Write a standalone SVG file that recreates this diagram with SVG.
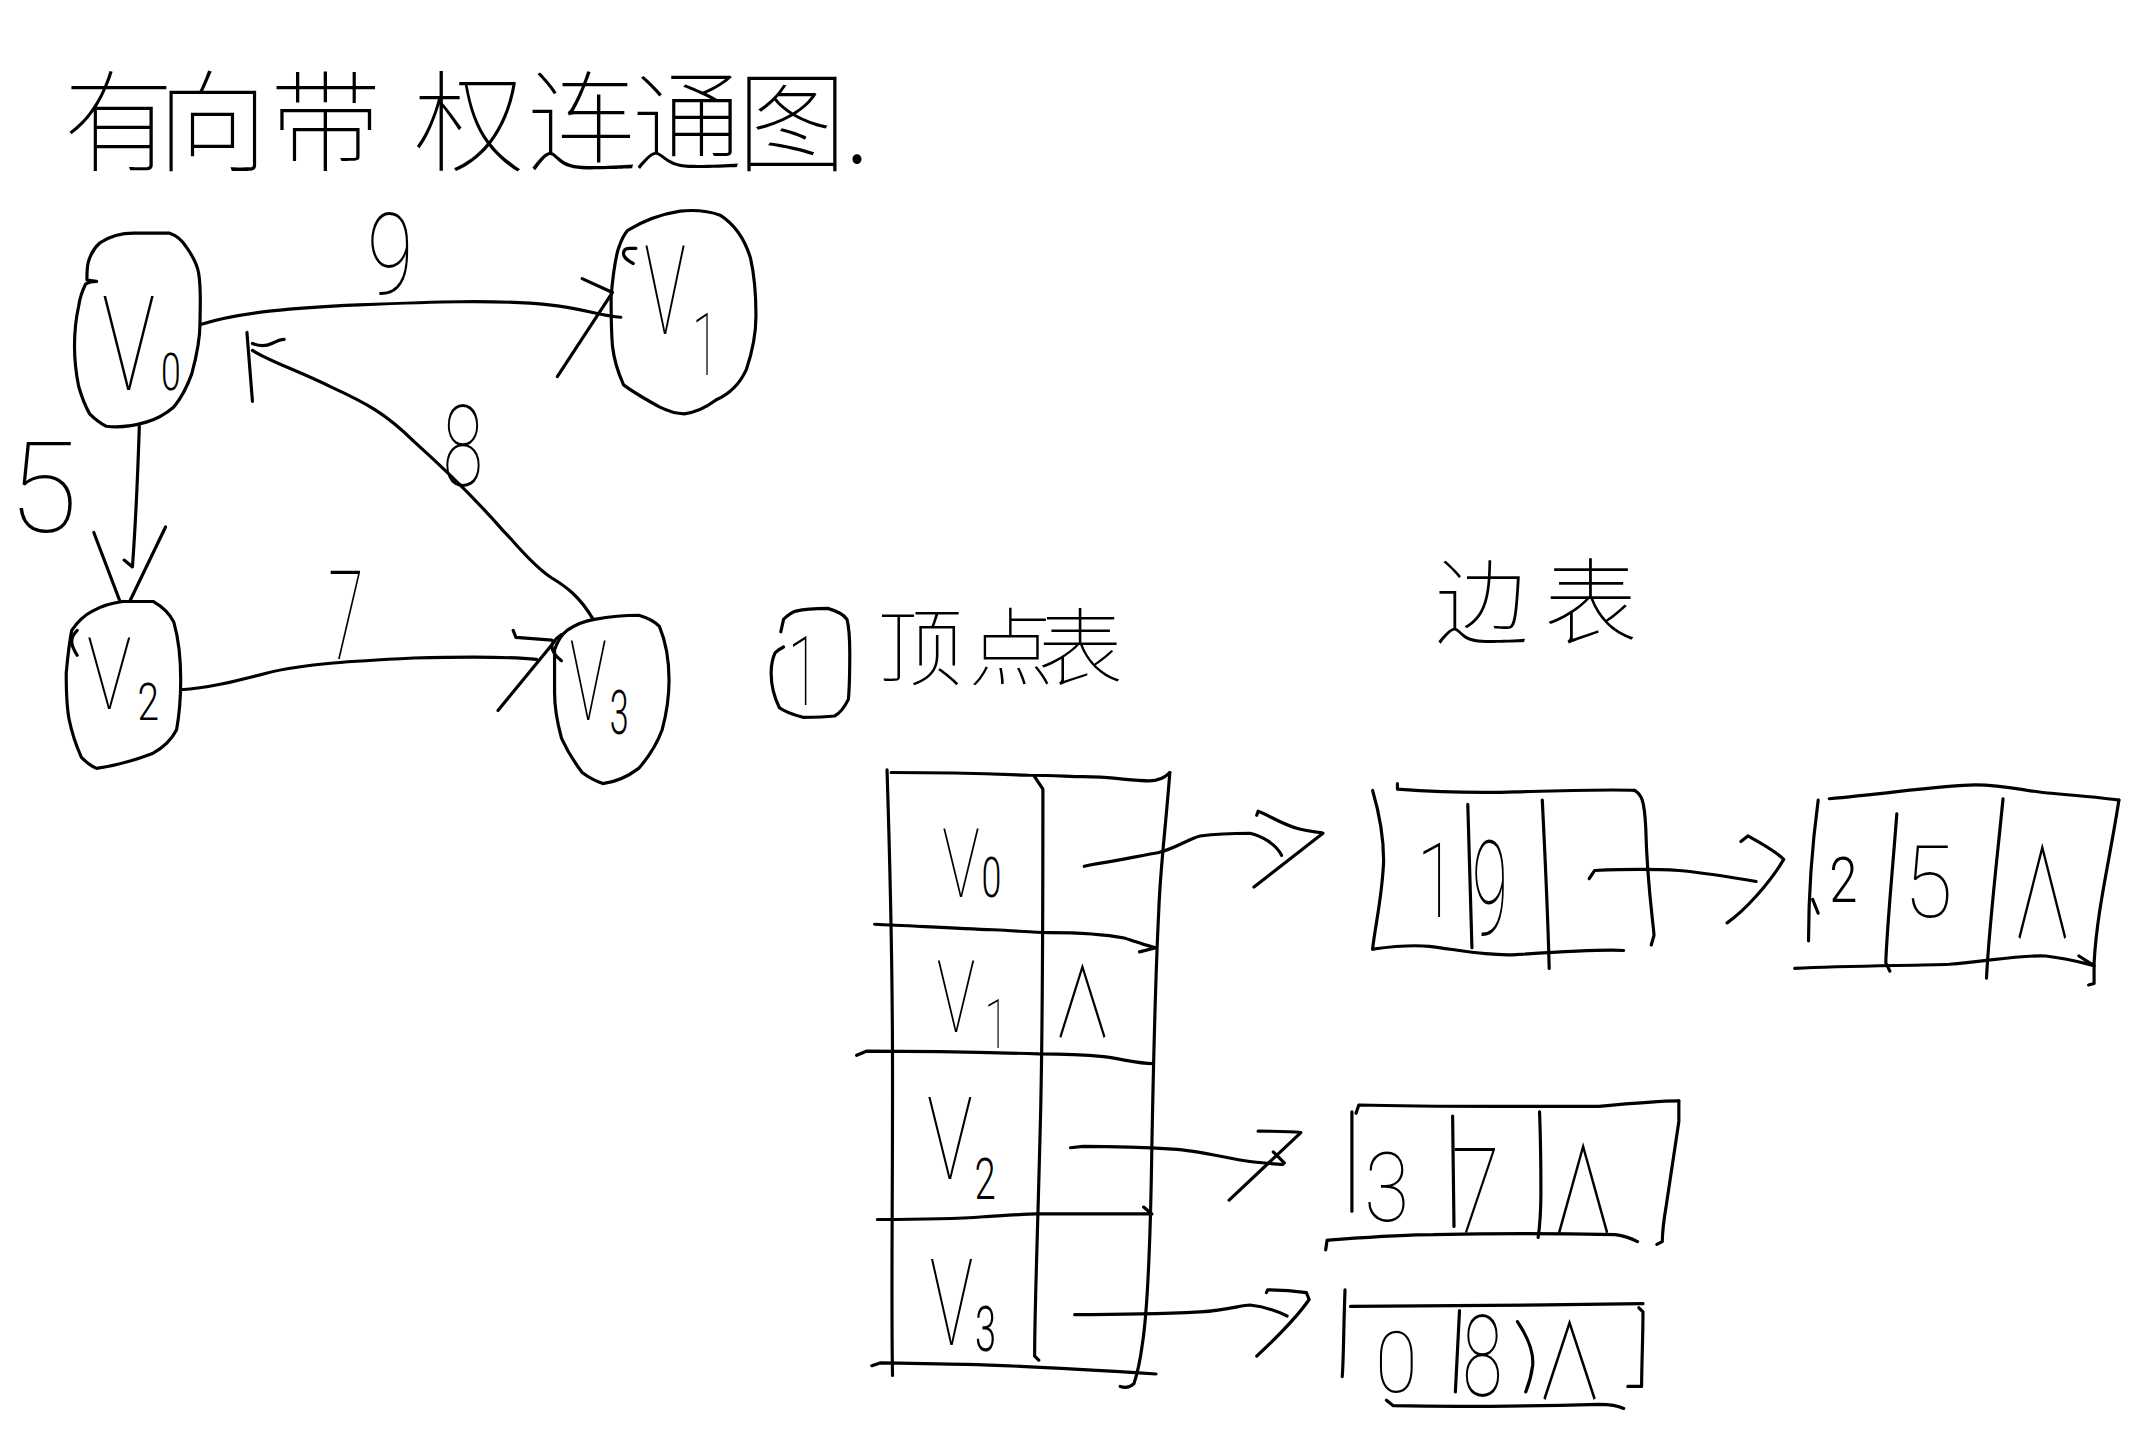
<svg xmlns="http://www.w3.org/2000/svg" width="2152" height="1439" viewBox="0 0 2152 1439">
<defs>
<style>
.ln{fill:none;stroke:#000;stroke-width:2.3;stroke-linecap:round;stroke-linejoin:round}
.h{font-family:Roboto,Lato,Inter,"DejaVu Sans",sans-serif;font-weight:100;fill:#000}
.s{font-weight:300}
.cjk{font-family:"Noto Sans CJK SC","Noto Sans CJK JP",sans-serif;font-weight:100;fill:#000}
.nul{font-family:"Noto Sans CJK SC","Noto Sans CJK JP","DejaVu Sans",sans-serif;font-weight:100;fill:#000}
</style>
</defs>
<rect x="0" y="0" width="2152" height="1439" fill="#fff"/>
<g transform="scale(1.3795)">

<g id="title">
<text class="cjk" font-size="80" x="46 114 196 300 382 458 534 612" y="118">有向带权连通图.</text>
</g>

<g id="node-v0">
<path class="ln" d="M70,204 L63,203 C63,198 63,194 64,190 C66,183 69,179 72.5,176 C80,171 89,169 97,169 L123,169 C129,171 132,174 135,179 C140,186 143,192 144,198 C146,210 145,222 145,234 C145,248 142,260 139,271 C135,282 131,289 126,295 C119,301 113,304 106,306 C96,309 86,310 77,309 C71,306 68,303 65,300 C61,293 59,287 57,280 C55,270 54,261 54,251 C54,240 55,231 57,222 C58,215 60,210 62,206 C65,204 67,204 70,204"/>
<text class="h" transform="translate(74,283) scale(0.68,1)" font-size="95">V<tspan class="s" font-size="38" dx="6">0</tspan></text>
</g>

<g id="node-v1">
<path class="ln" d="M455,167 C468,159 480,155 493,153 C504,152 514,153 522,156 C533,163 540,174 544,187 C547,200 548,215 548,229 C548,243 545,256 541,268 C536,279 528,286 519,290 C511,296 504,299 496,300 C490,300 484,298 478,295 C469,290 460,285 452,279 C448,270 445,260 444,251 C443,240 443,227 443,215 C444,203 445,192 448,181 C450,175 452,170 455,167"/>
<path class="ln" d="M459,191 C455,189 452,186 452,184 C452,181 454,180 456,180 L461,180"/>
<text class="h" transform="translate(467,242) scale(0.56,1)" font-size="90">V<tspan font-size="63" dx="8" dy="30">1</tspan></text>
</g>

<g id="node-v2">
<path class="ln" d="M89,436 L111,436 C118,440 123,445 126,451 C130,465 131,479 131,493 C131,506 130,518 128,529 C124,537 118,542 111,546 C98,551 84,555 70,557 C65,555 62,552 59,549 C55,540 52,531 50,521 C48,510 48,499 48,488 C49,477 50,467 52,457 C56,451 61,446 67,443 C74,439 81,437 89,436"/>
<path class="ln" d="M56,457 C53,460 52,463 52,465 C52,469 54,472 56,475"/>
<text class="h" transform="translate(63,514) scale(0.74,1)" font-size="73">V<tspan class="s" font-size="38" dx="6" dy="8">2</tspan></text>
</g>

<g id="node-v3">
<path class="ln" d="M431,449 C442,447 452,446 463,446 C470,448 475,451 478,454 C483,466 485,480 485,493 C485,506 483,518 480,529 C476,540 470,549 463,557 C455,563 446,567 437,568 C431,566 426,563 422,560 C416,552 411,544 407,535 C404,524 402,513 402,502 C402,491 402,481 402,471 C404,465 407,460 411,457 C417,453 424,450 431,449"/>
<path class="ln" d="M407,460 C403,463 400,466 400,468 C400,472 403,476 407,479"/>
<text class="h" transform="translate(413,522) scale(0.56,1)" font-size="80">V<tspan class="s" font-size="44" dx="4" dy="10">3</tspan></text>
</g>

<g id="connectors">
<path class="ln" d="M146,235 C175,226 215,223 260,221 C310,219 360,217 398,221 C420,223 435,229 450,230"/>
<path class="ln" d="M422,202 L444,212 L404,273"/>
<path class="ln" d="M101,309 C100,340 99,370 96,411 L90,406"/>
<path class="ln" d="M68,386 L87,436 M120,382 L94,436"/>
<path class="ln" d="M131,500 C150,499 170,494 193,488 C220,481 260,479 300,477 C340,476 370,476 389,478"/>
<path class="ln" d="M372,457 L374,462 L400,464 M402,465 L361,515"/>
<path class="ln" d="M430,449 C420,432 410,425 400,419 C385,409 375,395 365,385 C345,362 320,338 300,320 C280,300 265,292 241,281 C215,268 195,262 183,254"/>
<path class="ln" d="M179,241 L183,291 M183,249 C188,251 193,251 197,249 C201,247 204,246 206,246"/>
</g>

<g id="edge-labels">
<text class="h" transform="translate(266,213) scale(0.75,1)" font-size="82">9</text>
<text class="h" transform="translate(6,386) scale(1,1)" font-size="92">5</text>
<text class="h" transform="translate(321,352) scale(0.65,1)" font-size="82">8</text>
<text class="h" transform="translate(238,478) scale(0.52,1)" font-size="90">7</text>
</g>

<g id="vertex-table-caption">
<path class="ln" d="M566,458 L568,449 C571,446 574,444 577,443 C585,441 592,441 600,441 C607,443 612,446 614,449 C616,457 616,465 616,473 C616,485 616,496 615,507 C612,513 609,517 605,519 C597,520 589,520 582,520 C575,518 569,516 565,513 C561,505 559,496 559,488 C559,482 560,477 562,473 C564,471 566,470 568,469"/>
<text class="h" transform="translate(571,511) scale(0.6,1)" font-size="70">1</text>
<text class="cjk" font-size="62" x="636 702 752" y="492">顶点表</text>
</g>

<g id="edge-table-caption">
<text class="cjk" font-size="68" x="1040 1119" y="462">边表</text>
</g>

<g id="vertex-table">
<path class="ln" d="M643,558 C645,620 647,700 647,780 C647,880 646,950 647,997"/>
<path class="ln" d="M646,560 C680,560 720,561 746,562 C765,562 775,563 785,563 C805,563 820,566 833,566 C840,566 845,563 848,560"/>
<path class="ln" d="M848,560 C845,600 841,630 840,660 C837,720 836,780 835,830 C834,900 832,950 828,975 C826,990 823,1000 822,1003 C819,1006 815,1006 812,1005"/>
<path class="ln" d="M750,563 L756,572 C756,650 756,750 754,820 C752,900 750,950 750,983 L753,986"/>
<path class="ln" d="M634,670 C660,671 690,673 720,674 C740,675 750,676 760,676 C790,676 805,678 815,680 C825,683 832,686 838,687 M826,690 L838,687"/>
<path class="ln" d="M621,765 L628,762 C680,762 720,763 753,764 C775,764 790,765 800,766 C815,768 825,771 836,771"/>
<path class="ln" d="M636,884 C670,884 700,883 713,882 C730,881 745,880 751,880 C790,880 815,880 835,880 M829,875 L835,880"/>
<path class="ln" d="M632,990 L638,988 C660,988 680,989 700,989 C740,990 790,993 838,996"/>
<text class="h" transform="translate(683,650) scale(0.65,1)" font-size="70">V<tspan class="s" font-size="40" dx="2">0</tspan></text>
<text class="h" transform="translate(679,748) scale(0.65,1)" font-size="72">V<tspan font-size="50" dx="10" dy="12">1</tspan></text>
<text class="nul" transform="translate(763,752) scale(0.62,1)" font-size="70">∧</text>
<text class="h" transform="translate(672,855) scale(0.66,1)" font-size="84">V<tspan class="s" font-size="42" dx="2" dy="14">2</tspan></text>
<text class="h" transform="translate(674,975) scale(0.6,1)" font-size="88">V<tspan class="s" font-size="46" dx="2" dy="4">3</tspan></text>
</g>

<g id="list-v0-e1">
<path class="ln" d="M995,573 C1000,590 1003,610 1003,624 C1002,650 997,670 995,688"/>
<path class="ln" d="M1013,568 L1013,572 C1040,574 1070,575 1099,574 C1140,573 1170,572 1185,573"/>
<path class="ln" d="M1185,573 C1190,576 1192,580 1193,600 C1194,640 1198,665 1199,678 L1197,685"/>
<path class="ln" d="M995,688 C1010,686 1025,685 1036,686 C1060,689 1080,693 1099,692 C1130,690 1160,688 1177,689"/>
<path class="ln" d="M1064,583 L1067,687 M1118,580 C1120,620 1122,660 1123,702"/>
<text class="h" transform="translate(1027,665) scale(0.7,1)" font-size="75">1</text>
<text class="h" transform="translate(1067,678) scale(0.5,1)" font-size="95">9</text>
</g>

<g id="list-v0-e2">
<path class="ln" d="M1318,580 C1314,610 1311,640 1311,682 M1314,652 L1318,662"/>
<path class="ln" d="M1326,579 C1370,575 1410,569 1432,569 C1455,569 1470,574 1487,575 C1510,577 1530,579 1536,580"/>
<path class="ln" d="M1536,580 C1530,620 1520,660 1518,698 L1518,713 L1514,714"/>
<path class="ln" d="M1301,702 C1340,700 1390,700 1413,699 C1440,697 1465,692 1483,693 C1500,695 1510,698 1518,700 M1507,693 L1518,700"/>
<path class="ln" d="M1375,590 C1372,630 1368,670 1367,698 L1370,704 M1452,579 C1448,620 1442,670 1440,709"/>
<text class="h s" transform="translate(1326,654) scale(0.8,1)" font-size="46">2</text>
<text class="h" transform="translate(1380,665) scale(0.9,1)" font-size="72">5</text>
<text class="nul" transform="translate(1458,680) scale(0.5,1)" font-size="90">∧</text>
</g>

<g id="list-v2-e1">
<path class="ln" d="M980,806 C980,830 980,860 980,878"/>
<path class="ln" d="M983,807 L985,801 C1020,802 1060,802 1087,802 C1120,802 1140,802 1159,802 C1180,800 1205,798 1217,798"/>
<path class="ln" d="M1217,798 L1217,813 C1213,840 1210,860 1208,873 C1206,885 1205,895 1205,900 L1201,902"/>
<path class="ln" d="M961,906 L962,899 C990,897 1015,895 1039,895 C1080,894 1130,894 1171,895 C1178,896 1183,898 1187,900"/>
<path class="ln" d="M1053,809 L1054,889 M1116,806 C1117,830 1117,850 1117,865 C1117,880 1116,890 1115,897"/>
<text class="h" transform="translate(989,885) scale(0.85,1)" font-size="70">3</text>
<text class="h" transform="translate(1052,893) scale(0.75,1)" font-size="86">7</text>
<text class="nul" transform="translate(1124,894) scale(0.55,1)" font-size="86">∧</text>
</g>

<g id="list-v3-e1">
<path class="ln" d="M975,935 C974,960 974,985 973,998"/>
<path class="ln" d="M979,947 C1040,947 1120,946 1191,945"/>
<path class="ln" d="M1188,948 L1191,951 C1191,970 1190,990 1190,1005 L1180,1005"/>
<path class="ln" d="M1005,1015 L1010,1019 C1060,1020 1120,1019 1159,1018 C1168,1018 1173,1019 1177,1021"/>
<path class="ln" d="M1058,950 L1055,1009 M1100,958 C1108,970 1112,980 1111,990 C1110,998 1108,1004 1106,1009"/>
<text class="h" transform="translate(997,1009) scale(0.9,1)" font-size="62">0</text>
<text class="h" transform="translate(1060,1012) scale(0.65,1)" font-size="82">8</text>
<text class="nul" transform="translate(1113,1014) scale(0.65,1)" font-size="76">∧</text>
</g>

<g id="pointers">
<path class="ln" d="M786,628 L790,627 C810,624 828,620 840,618 C852,615 862,608 870,606 C885,604 898,604 906,604 C915,606 925,612 929,620"/>
<path class="ln" d="M911,591 L912,588 C920,591 930,598 942,601 C950,603 956,603 959,604 L909,643"/>
<path class="ln" d="M1152,637 L1156,631 C1180,630 1200,630 1217,631 C1240,633 1260,637 1273,639"/>
<path class="ln" d="M1262,610 L1267,606 C1278,612 1288,618 1293,623 C1283,640 1265,660 1252,669"/>
<path class="ln" d="M776,832 L785,831 C810,831 835,832 850,833 C870,834 890,840 906,842 C915,843 925,844 930,844 M923,835 L931,843"/>
<path class="ln" d="M912,820 C925,820 935,820 943,821 L891,870"/>
<path class="ln" d="M779,953 C810,953 850,952 870,951 C890,950 900,946 906,946 C915,947 925,950 933,954"/>
<path class="ln" d="M918,937 L919,935 C930,935 940,936 947,937 L949,942 C940,955 925,970 911,983"/>
</g>

</g>
</svg>
